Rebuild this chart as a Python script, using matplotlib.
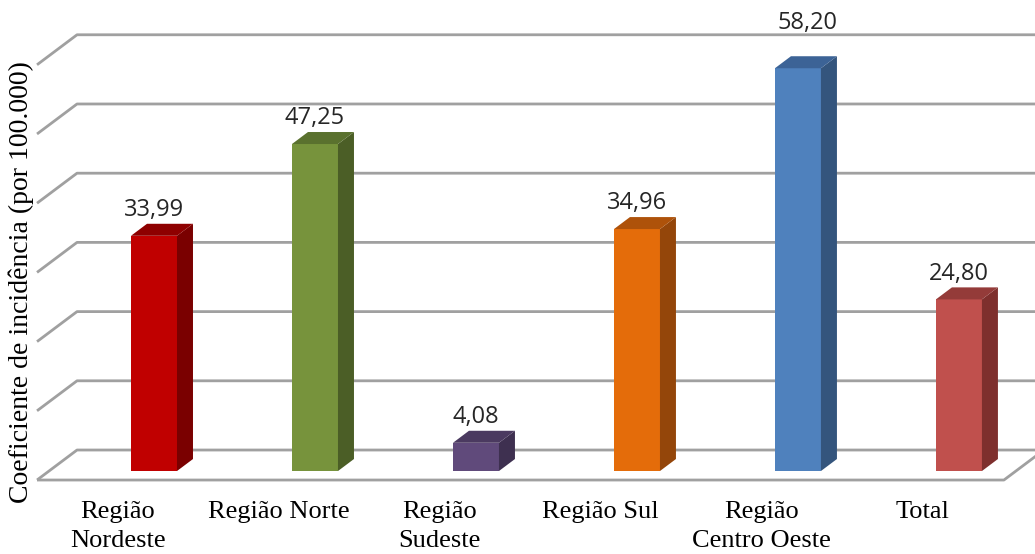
import matplotlib.pyplot as plt
from matplotlib.patches import Polygon, Rectangle

categories = ['Região\nNordeste', 'Região Norte', 'Região\nSudeste',
              'Região Sul', 'Região\nCentro Oeste', 'Total']
values = [33.99, 47.25, 4.08, 34.96, 58.20, 24.80]
labels = ['33,99', '47,25', '4,08', '34,96', '58,20', '24,80']
# front, side, top shades for each bar
front_colors = ['#C00000', '#77933C', '#604A7B', '#E46C0A', '#4F81BD', '#C0504D']
side_colors = ['#7A0000', '#4B5E26', '#3E3050', '#94460A', '#34557D', '#7E2F2D']
top_colors = ['#8E0000', '#5A712E', '#4B3A60', '#AE520A', '#3C6396', '#943B39']
yticks = [0, 10, 20, 30, 40, 50, 60]

# oblique depth of the floor / walls in data units
DX, DY = 0.2484, 4.335
BAR_W = 0.2857
T0, T1 = 0.3, 0.7          # bar depth range along the floor
XL, XR = -0.652, 5.354     # floor front edge
TOP = yticks[-1] + DY      # top gridline on the back wall

fig = plt.figure(figsize=(10.35, 5.54), dpi=100)
ax = fig.add_axes([0, 0, 1, 1])
ax.set_xlim(-0.882, 5.547)
ax.set_ylim(-10.69, 69.36)
ax.axis('off')

grid_kw = dict(color='#A0A0A0', lw=2.0, zorder=1, solid_capstyle='butt')
for v in yticks:
    ax.plot([XL, XL + DX, XR + DX + 0.3], [v, v + DY, v + DY], **grid_kw)
# front edge and right side of the floor
ax.plot([XL, XR, XR + DX], [0, 0, DY], **grid_kw)

for i, v in enumerate(values):
    x0 = i - BAR_W / 2 + T0 * DX
    x1 = x0 + BAR_W
    y0 = T0 * DY
    ddx, ddy = (T1 - T0) * DX, (T1 - T0) * DY
    ax.add_patch(Rectangle((x0, y0), BAR_W, v, facecolor=front_colors[i],
                           edgecolor='none', zorder=3))
    ax.add_patch(Polygon([(x1, y0), (x1, y0 + v), (x1 + ddx, y0 + v + ddy),
                          (x1 + ddx, y0 + ddy)], closed=True,
                         facecolor=side_colors[i], edgecolor='none', zorder=3))
    ax.add_patch(Polygon([(x0, y0 + v), (x1, y0 + v), (x1 + ddx, y0 + v + ddy),
                          (x0 + ddx, y0 + v + ddy)], closed=True,
                         facecolor=top_colors[i], edgecolor='none', zorder=3))

    # value label just above the bar, lifted over the top gridline if it would cross it
    lx, ly = i + T0 * DX, v + T1 * DY + 1.1
    if ly < TOP < ly + 3.0:
        lx, ly = i + 0.55 * DX, TOP + 0.9
    ax.text(lx, ly, labels[i], ha='center', va='baseline', fontsize=17,
            family='Open Sans', color='#262626', zorder=4)
    ax.text(i - 0.15, -3.1, categories[i], ha='center', va='top',
            fontsize=19, family='Liberation Serif', linespacing=1.38)

fig.text(0.021, 0.49, 'Coeficiente de incidência (por 100.000)', rotation=90,
         ha='center', va='center', fontsize=20, family='Liberation Serif')

fig.savefig('out.png', dpi=100)
